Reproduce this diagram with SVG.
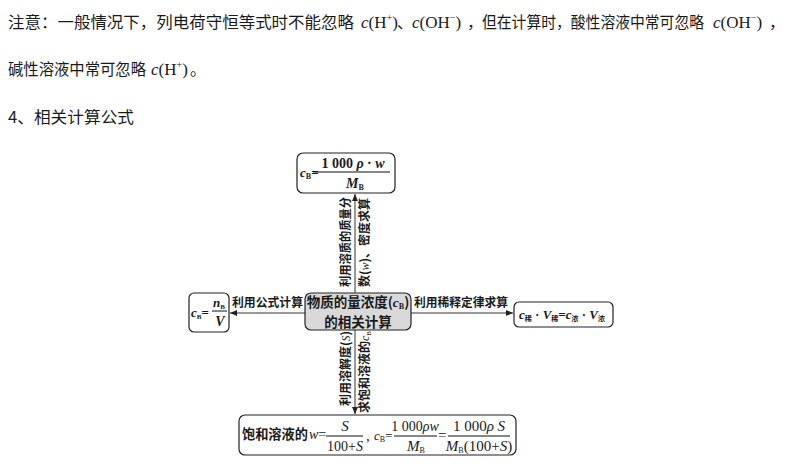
<svg xmlns="http://www.w3.org/2000/svg" width="790" height="464" viewBox="0 0 790 464">
<defs>
<style>
.hd{font-family:"Noto Sans CJK SC","Noto Sans",sans-serif;font-size:16px;fill:#1a1a1a}
.ser{font-family:"Liberation Serif","Noto Sans CJK SC",serif;fill:#1a1a1a}
.it{font-style:italic}
.cjk{font-family:"Noto Sans CJK SC",sans-serif;font-weight:bold;fill:#1a1a1a}
.box{fill:#fff;stroke:#222;stroke-width:1.2}
.cbox{fill:#d9d9d9;stroke:#222;stroke-width:1.2}
.fl{stroke:#111;stroke-width:1}
.conn{stroke:#333;stroke-width:1;fill:none;marker-end:url(#ah)}
</style>
<marker id="ah" markerWidth="7" markerHeight="6" refX="7" refY="3" orient="auto" markerUnits="userSpaceOnUse">
<path d="M0,0 L7,3 L0,6 z" fill="#222"/>
</marker>
</defs>
<rect width="790" height="464" fill="#fff"/>

<g id="header">
<text class="hd" x="8" y="28" font-size="16.4" textLength="346" lengthAdjust="spacingAndGlyphs">注意：一般情况下，列电荷守恒等式时不能忽略</text>
<text class="ser" x="361" y="28" font-size="17"><tspan class="it">c</tspan>(H<tspan font-size="10" dy="-7">+</tspan><tspan dy="7">)</tspan></text>
<text class="hd" x="397" y="28" font-size="14">、</text>
<text class="ser" x="412" y="28" font-size="17"><tspan class="it">c</tspan>(OH<tspan font-size="10" dy="-7">−</tspan><tspan dy="7">)</tspan></text>
<text class="hd" x="467" y="28" font-size="14">，</text>
<text class="hd" x="482" y="28" font-size="13.7" textLength="222" lengthAdjust="spacingAndGlyphs">但在计算时，酸性溶液中常可忽略</text>
<text class="ser" x="713" y="28" font-size="17"><tspan class="it">c</tspan>(OH<tspan font-size="10" dy="-7">−</tspan><tspan dy="7">)</tspan></text>
<text class="hd" x="769" y="28" font-size="14">，</text>
<text class="hd" x="8" y="75" font-size="15.3" textLength="138" lengthAdjust="spacingAndGlyphs">碱性溶液中常可忽略</text>
<text class="ser" x="151" y="75" font-size="17"><tspan class="it">c</tspan>(H<tspan font-size="10" dy="-7">+</tspan><tspan dy="7">)</tspan></text>
<text class="hd" x="190" y="75">。</text>
<text class="hd" x="8" y="123" textLength="126" lengthAdjust="spacingAndGlyphs">4、相关计算公式</text>
</g>

<g id="connectors">
<line class="conn" x1="355" y1="293" x2="355" y2="194"/>
<line class="conn" x1="355" y1="330" x2="355" y2="414"/>
<line class="conn" x1="305" y1="313" x2="230" y2="313"/>
<line class="conn" x1="411" y1="313" x2="513" y2="313"/>
<text class="cjk" font-size="12" transform="translate(350,287) rotate(-90)" textLength="90" lengthAdjust="spacingAndGlyphs">利用溶质的质量分</text>
<text class="cjk" font-size="12" transform="translate(369,287) rotate(-90)">数(<tspan class="ser it" font-weight="normal">w</tspan>)、密度求算</text>
<text class="cjk" font-size="12" transform="translate(350,406) rotate(-90)">利用溶解度(<tspan class="ser it" font-weight="normal">S</tspan>)</text>
<text class="cjk" font-size="12" transform="translate(369,413) rotate(-90)">求饱和溶液的<tspan class="ser it" font-weight="normal">c</tspan><tspan class="ser" font-weight="normal" font-size="7" dy="2">B</tspan></text>
<text class="cjk" font-size="12" x="232" y="307" textLength="71" lengthAdjust="spacingAndGlyphs">利用公式计算</text>
<text class="cjk" font-size="12" x="414" y="307" textLength="94" lengthAdjust="spacingAndGlyphs">利用稀释定律求算</text>
</g>

<g id="node-top">
<rect class="box" x="297" y="153" width="98" height="40" rx="6"/>
<text class="ser it" x="300" y="177" font-size="13" font-weight="bold">c<tspan font-size="8" font-style="normal" dy="2">B</tspan><tspan font-style="normal" dy="-2">=</tspan></text>
<line class="fl" x1="313" y1="172" x2="390" y2="172"/>
<text class="ser" x="353" y="168" font-size="14" font-weight="bold" text-anchor="middle">1 000 <tspan class="it">ρ</tspan> · <tspan class="it">w</tspan></text>
<text class="ser" x="355" y="188" font-size="14" font-weight="bold" text-anchor="middle"><tspan class="it">M</tspan><tspan font-size="8" dy="2">B</tspan></text>
</g>

<g id="node-center">
<rect class="cbox" x="305" y="293" width="106" height="37" rx="6"/>
<text class="cjk" x="358" y="307" font-size="13.5" text-anchor="middle">物质的量浓度(<tspan class="ser it">c</tspan><tspan class="ser" font-size="8" dy="2">B</tspan><tspan dy="-2">)</tspan></text>
<text class="cjk" x="358" y="327" font-size="13.5" text-anchor="middle">的相关计算</text>
</g>

<g id="node-left">
<rect class="box" x="189" y="293" width="40" height="39" rx="5"/>
<text class="ser it" x="191" y="317" font-size="13" font-weight="bold">c<tspan font-size="7" font-style="normal" dy="2">B</tspan><tspan font-style="normal" dy="-2">=</tspan></text>
<line class="fl" x1="212" y1="311" x2="227" y2="311"/>
<text class="ser" x="219" y="307" font-size="13" font-weight="bold" text-anchor="middle"><tspan class="it">n</tspan><tspan font-size="7" dy="2">B</tspan></text>
<text class="ser it" x="220" y="326" font-size="14" font-weight="bold" text-anchor="middle">V</text>
</g>

<g id="node-right">
<rect class="box" x="514" y="302" width="99" height="25" rx="5"/>
<text class="ser" x="519" y="319" font-size="13" font-weight="bold"><tspan class="it">c</tspan><tspan class="cjk" font-size="7" dy="2">稀</tspan><tspan dy="-2"> · </tspan><tspan class="it">V</tspan><tspan class="cjk" font-size="7" dy="2">稀</tspan><tspan dy="-2">=</tspan><tspan class="it">c</tspan><tspan class="cjk" font-size="7" dy="2">浓</tspan><tspan dy="-2"> · </tspan><tspan class="it">V</tspan><tspan class="cjk" font-size="7" dy="2">浓</tspan></text>
</g>

<g id="node-bottom">
<rect class="box" x="239" y="415" width="277" height="40" rx="6"/>
<text class="cjk" x="242" y="439" font-size="13.2">饱和溶液的</text>
<text class="ser" x="309" y="439" font-size="14"><tspan class="it">w</tspan>=</text>
<line class="fl" x1="326" y1="436" x2="363" y2="436"/>
<text class="ser it" x="345" y="431" font-size="15" text-anchor="middle">S</text>
<text class="ser" x="345" y="451" font-size="14" text-anchor="middle">100+<tspan class="it">S</tspan></text>
<text class="ser" x="366" y="441" font-size="15">,</text>
<text class="ser" x="374" y="440" font-size="13"><tspan class="it">c</tspan><tspan font-size="8" dy="2">B</tspan><tspan dy="-2">=</tspan></text>
<line class="fl" x1="394" y1="436" x2="437" y2="436"/>
<text class="ser" x="415" y="431" font-size="14" text-anchor="middle">1 000<tspan class="it">ρw</tspan></text>
<text class="ser" x="416" y="451" font-size="15" text-anchor="middle"><tspan class="it">M</tspan><tspan font-size="8" dy="2">B</tspan></text>
<text class="ser" x="438" y="440" font-size="15">=</text>
<line class="fl" x1="448" y1="436" x2="510" y2="436"/>
<text class="ser" x="479" y="431" font-size="15" text-anchor="middle">1 000<tspan class="it">ρ</tspan> <tspan class="it">S</tspan></text>
<text class="ser" x="479" y="451" font-size="15" text-anchor="middle"><tspan class="it">M</tspan><tspan font-size="8" dy="2">B</tspan><tspan dy="-2">(100+</tspan><tspan class="it">S</tspan>)</text>
</g>
</svg>
